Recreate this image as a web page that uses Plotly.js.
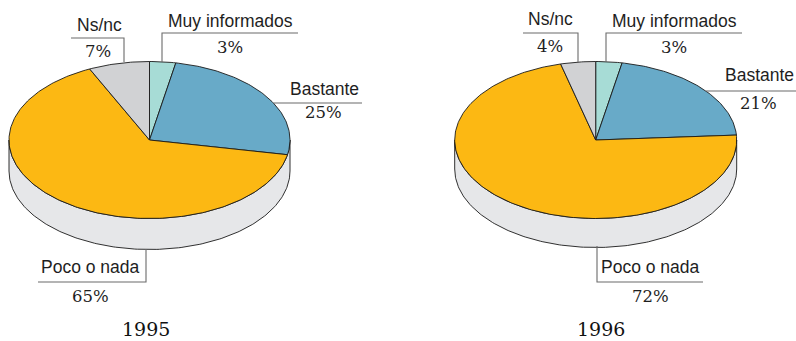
<!DOCTYPE html>
<html>
<head>
<meta charset="utf-8">
<script src="https://cdn.plot.ly/plotly-3.0.1.min.js"></script>
<style>
  html, body { margin: 0; padding: 0; background: #ffffff; }
  #chart { width: 796px; height: 341px; }
</style>
</head>
<body>
<div id="chart"></div>
<script>
// Survey answers, one pie per year
const categories = ['Muy informados', 'Bastante', 'Poco o nada', 'Ns/nc'];
const values1995 = [3, 25, 65, 7];
const values1996 = [3, 21, 72, 4];
const years = ['1995', '1996'];

// Styling
const sliceColors = ['#a7dcd6', '#68aac8', '#fcb813', '#d1d2d4'];
const sideColor = '#e6e7e9';
const edgeColor = '#1a1a1a';
const leaderColor = '#6b6b6b';
const nameFont = { family: 'Liberation Sans, Arial, sans-serif', size: 17.5, color: '#1e1e1e' };
const pctFont = { family: 'DejaVu Serif, serif', size: 16.5, color: '#1e1e1e' };
const yearFont = { family: 'DejaVu Serif, serif', size: 19, color: '#111111' };

// Layout of each tilted pie (page units, y pointing down)
const pieLayouts = [
  {
    cx: 149.5, cy: 140, rx: 140.5, ry: 78.5, depth: 31,
    values: values1995, year: years[0], yearPos: [146, 341],
    names: [[230, 21], [324, 89], [90, 267], [99, 25]],
    pcts: [[230, 47], [323, 112], [90, 296], [98, 51]],
    leaders: [
      [[298, 33], [162, 33], [162, 62]],
      [[362, 103], [274, 103]],
      [[38, 282], [146, 282], [146, 249]],
      [[71, 38], [124, 38], [124, 62]]
    ]
  },
  {
    cx: 595.7, cy: 140, rx: 141, ry: 78.5, depth: 29,
    values: values1996, year: years[1], yearPos: [601, 341],
    names: [[674, 21], [759, 75], [650, 267], [550, 19]],
    pcts: [[674, 47.5], [758, 103], [650, 296], [550, 46]],
    leaders: [
      [[742, 33], [606, 33], [606, 62]],
      [[796, 91], [706, 91]],
      [[703, 282], [597, 282], [597, 246]],
      [[523, 33], [578, 33], [578, 62]]
    ]
  }
];

// Point on the pie rim; t is the fraction of a full turn, clockwise from 12 o'clock
function rim(p, t, dy) {
  const a = 2 * Math.PI * t;
  return [p.cx + p.rx * Math.sin(a), p.cy - p.ry * Math.cos(a) + (dy || 0)];
}

const traces = [];
const annotations = [];

pieLayouts.forEach(p => {
  // Front wall of the cylinder
  const sx = [], sy = [];
  for (let i = 0; i <= 180; i++) {
    const pt = rim(p, 0.25 + 0.5 * i / 180, 0);
    sx.push(pt[0]); sy.push(pt[1]);
  }
  for (let i = 180; i >= 0; i--) {
    const pt = rim(p, 0.25 + 0.5 * i / 180, p.depth);
    sx.push(pt[0]); sy.push(pt[1]);
  }
  sx.push(sx[0]); sy.push(sy[0]);
  traces.push({
    type: 'scatter', mode: 'lines', x: sx, y: sy, fill: 'toself',
    fillcolor: sideColor, line: { color: edgeColor, width: 0.9 },
    hoverinfo: 'skip', showlegend: false
  });

  // Top slices from the values
  const total = p.values.reduce((a, b) => a + b, 0);
  let acc = 0;
  p.values.forEach((v, k) => {
    const t0 = acc / total, t1 = (acc + v) / total;
    acc += v;
    const xs = [p.cx], ys = [p.cy];
    const steps = Math.max(4, Math.ceil((t1 - t0) * 360));
    for (let i = 0; i <= steps; i++) {
      const pt = rim(p, t0 + (t1 - t0) * i / steps, 0);
      xs.push(pt[0]); ys.push(pt[1]);
    }
    xs.push(p.cx); ys.push(p.cy);
    traces.push({
      type: 'scatter', mode: 'lines', x: xs, y: ys, fill: 'toself',
      fillcolor: sliceColors[k], line: { color: edgeColor, width: 0.9 },
      name: categories[k], text: categories[k] + ': ' + v + '%',
      hoverinfo: 'text', showlegend: false
    });

    // Leader line and labels
    const ld = p.leaders[k];
    traces.push({
      type: 'scatter', mode: 'lines', x: ld.map(q => q[0]), y: ld.map(q => q[1]),
      line: { color: leaderColor, width: 1.1 }, hoverinfo: 'skip', showlegend: false
    });
    annotations.push({
      x: p.names[k][0], y: p.names[k][1], xref: 'x', yref: 'y',
      text: categories[k], showarrow: false, xanchor: 'center', yanchor: 'middle',
      font: nameFont
    });
    annotations.push({
      x: p.pcts[k][0], y: p.pcts[k][1], xref: 'x', yref: 'y',
      text: v + '%', showarrow: false, xanchor: 'center', yanchor: 'middle',
      font: pctFont
    });
  });

  // Year caption, kept inside the bottom edge
  annotations.push({
    x: p.yearPos[0], y: p.yearPos[1], xref: 'x', yref: 'y',
    text: p.year, showarrow: false, xanchor: 'center', yanchor: 'bottom',
    borderpad: 0, font: yearFont
  });
});

const layout = {
  width: 796, height: 341,
  margin: { l: 0, r: 0, t: 0, b: 0, pad: 0 },
  paper_bgcolor: '#ffffff', plot_bgcolor: '#ffffff',
  xaxis: { range: [0, 796], visible: false, fixedrange: true },
  yaxis: { range: [341, 0], visible: false, fixedrange: true },
  annotations: annotations,
  showlegend: false
};

Plotly.newPlot('chart', traces, layout, { displayModeBar: false, staticPlot: true });
</script>
</body>
</html>
